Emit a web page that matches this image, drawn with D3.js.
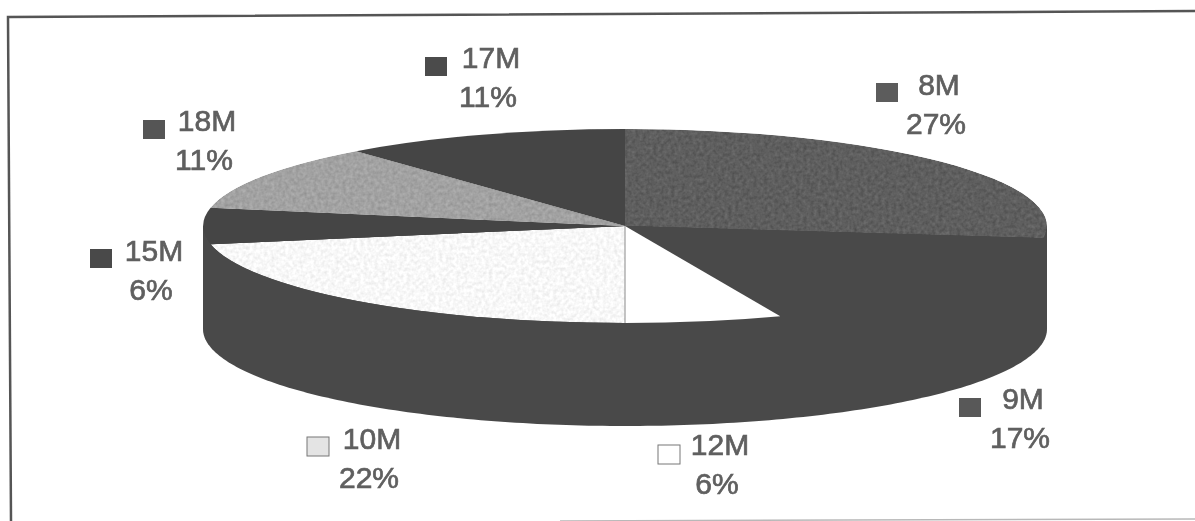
<!DOCTYPE html>
<html>
<head>
<meta charset="utf-8">
<script src="https://cdn.jsdelivr.net/npm/d3@7"></script>
<style>
  html, body { margin: 0; padding: 0; background: #fff; }
  svg { display: block; }
  text { font-family: "Liberation Sans", Arial, sans-serif; font-size: 30px; fill: #5f5f5f; stroke: #5f5f5f; stroke-width: .7px; }
</style>
</head>
<body>
<div id="chart"></div>
<script>
var categories = ["8M", "9M", "12M", "10M", "15M", "18M", "17M"];
var shares = [27, 17, 6, 22, 6, 11, 11];

var width = 1195, height = 521;
var cx = 625, cy = 226, rx = 422, ry = 97, depth = 103;

// one per category, same order
var topColor = ["#5e5e5e", "#4a4a4a", "#ffffff", "#f8f8f8", "#444444", "#a2a2a2", "#454545"];
var swatchColor = ["#5c5c5c", "#585858", "#ffffff", "#e4e4e4", "#484848", "#555555", "#4c4c4c"];
var grainy = [true, false, false, true, false, true, false];
var labelAt = [[939, 86], [1023, 400], [720, 446], [372, 440], [154, 252], [207, 122], [491, 59]];
var swatchAt = [[887, 93], [970, 408], [669, 455], [318, 447], [101, 259], [154, 130], [436, 67]];

var svg = d3.select("#chart").append("svg")
    .attr("width", width)
    .attr("height", height);

var defs = svg.append("defs");
var grain = defs.append("filter").attr("id", "grain")
    .attr("filterUnits", "userSpaceOnUse")
    .attr("x", 0).attr("y", 0).attr("width", width).attr("height", height)
    .attr("color-interpolation-filters", "sRGB");
grain.append("feTurbulence")
    .attr("type", "fractalNoise").attr("baseFrequency", 0.28)
    .attr("numOctaves", 2).attr("seed", 4).attr("result", "noise");
grain.append("feColorMatrix").attr("in", "noise").attr("type", "matrix")
    .attr("values", "1 0 0 0 0  1 0 0 0 0  1 0 0 0 0  0 0 0 0 1")
    .attr("result", "gray");
grain.append("feComposite").attr("in", "SourceGraphic").attr("in2", "gray")
    .attr("operator", "arithmetic")
    .attr("k1", 0).attr("k2", 1).attr("k3", 0.16).attr("k4", -0.08)
    .attr("result", "mixed");
grain.append("feComposite").attr("in", "mixed").attr("in2", "SourceAlpha")
    .attr("operator", "in");

var soft = defs.append("filter").attr("id", "soft");
soft.append("feGaussianBlur").attr("stdDeviation", 0.6);

//
// Frame
//
var frame = svg.append("g")
    .attr("fill", "none")
    .attr("filter", "url(#soft)");

frame.append("path")
    .attr("d", d3.line()([[11, height], [8, 17], [width, 11]]))
    .attr("stroke", "#555")
    .attr("stroke-width", 2.5);

frame.append("path")
    .attr("d", d3.line()([[560, 521], [width, 519]]))
    .attr("stroke", "#b8b8b8")
    .attr("stroke-width", 1.5);

//
// Pie
//
var pie = d3.pie().sort(null).value(function(d) { return d; });
var arcs = pie(shares);
var unit = d3.arc().innerRadius(0).outerRadius(1);

var chart = svg.append("g").attr("filter", "url(#soft)");

// side wall: lower half of the ellipse pushed down by depth, closed along
// the ellipse's widest line so it runs under the top slices without a seam
var wall = d3.range(90, 270.5, 1).map(function(a) {
    var t = a * Math.PI / 180;
    return [cx + rx * Math.sin(t), cy - ry * Math.cos(t) + depth];
});
var wallPath = d3.line()([[cx + rx, cy]].concat(wall, [[cx - rx, cy]])) + "Z";

chart.append("path")
    .attr("d", wallPath)
    .attr("fill", "#4a4a4a");

// filter sits on a wrapper so the noise is not stretched by the ellipse scale
chart.selectAll("g.slice")
    .data(arcs)
    .enter().append("g")
    .attr("class", "slice")
    .attr("filter", function(d, i) { return grainy[i] ? "url(#grain)" : null; })
    .append("path")
    .attr("transform", "translate(" + cx + "," + cy + ") scale(" + rx + "," + ry + ")")
    .attr("d", unit)
    .attr("fill", function(d, i) { return topColor[i]; });

// hairline where 12M meets 10M
chart.append("line")
    .attr("x1", cx).attr("y1", cy)
    .attr("x2", cx).attr("y2", cy + ry)
    .attr("stroke", "#8a8a8a")
    .attr("stroke-width", 1);

//
// Labels
//
var labels = svg.append("g").attr("filter", "url(#soft)");

labels.selectAll("rect")
    .data(categories)
    .enter().append("rect")
    .attr("x", function(d, i) { return swatchAt[i][0] - 11; })
    .attr("y", function(d, i) { return swatchAt[i][1] - 10; })
    .attr("width", 22)
    .attr("height", 19)
    .attr("fill", function(d, i) { return swatchColor[i]; })
    .attr("stroke", function(d, i) { return i == 2 || i == 3 ? "#777" : "none"; })
    .attr("stroke-width", 1);

labels.selectAll("text.name")
    .data(categories)
    .enter().append("text")
    .attr("class", "name")
    .attr("text-anchor", "middle")
    .attr("x", function(d, i) { return labelAt[i][0]; })
    .attr("y", function(d, i) { return labelAt[i][1] + 9; })
    .text(function(d) { return d; });

labels.selectAll("text.share")
    .data(shares)
    .enter().append("text")
    .attr("class", "share")
    .attr("text-anchor", "middle")
    .attr("x", function(d, i) { return labelAt[i][0] - 3; })
    .attr("y", function(d, i) { return labelAt[i][1] + 48; })
    .text(function(d) { return d + "%"; });
</script>
</body>
</html>
